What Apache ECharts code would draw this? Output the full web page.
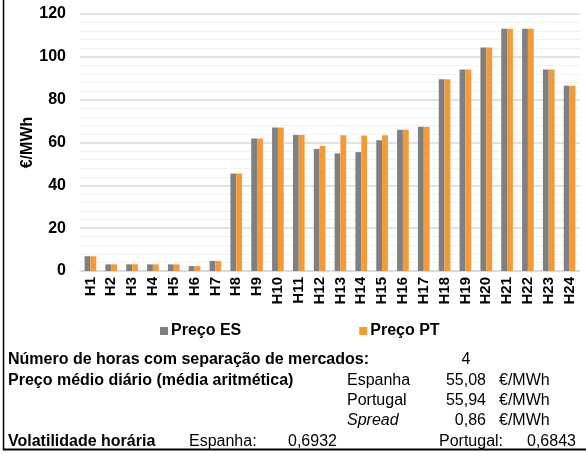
<!DOCTYPE html>
<html>
<head>
<meta charset="utf-8">
<script src="https://cdn.jsdelivr.net/npm/echarts@6/dist/echarts.min.js"></script>
<style>
  html, body { margin: 0; padding: 0; background: #fff; }
  #chart { width: 586px; height: 454px; }
</style>
</head>
<body>
<div id="chart"></div>
<script>
  const hours = ['H1', 'H2', 'H3', 'H4', 'H5', 'H6', 'H7', 'H8', 'H9', 'H10', 'H11', 'H12',
    'H13', 'H14', 'H15', 'H16', 'H17', 'H18', 'H19', 'H20', 'H21', 'H22', 'H23', 'H24']
  const precoES = [6.9, 3.1, 3.1, 3.1, 3.1, 2.3, 4.7, 45.5, 61.9, 67.0, 63.5, 57.0,
    54.9, 55.5, 61.0, 65.9, 67.3, 89.5, 94.1, 104.3, 113.1, 113.1, 94.1, 86.5]
  const precoPT = [6.9, 3.1, 3.1, 3.1, 3.1, 2.3, 4.7, 45.5, 61.9, 67.0, 63.5, 58.4,
    63.4, 63.3, 63.4, 65.9, 67.3, 89.5, 94.1, 104.3, 113.1, 113.1, 94.1, 86.5]
  const yTicks = [0, 20, 40, 60, 80, 100, 120]

  // quadro de resumo por baixo do gráfico
  const horasSeparacao = '4'
  const precoMedio = [
    ['Espanha', '55,08', '€/MWh'],
    ['Portugal', '55,94', '€/MWh'],
    ['Spread', '0,86', '€/MWh'],
  ]
  const volatilidade = [['Espanha:', '0,6932'], ['Portugal:', '0,6843']]

  const FONT = '"Liberation Sans", Arial, sans-serif'
  const GREY = '#808080'
  const ORANGE = '#F49B38'

  function txt(x, y, text, weight, style, align) {
    return {
      type: 'text',
      x: x,
      y: y,
      z2: style === 'italic' ? 20 : 10,
      style: {
        text: text,
        fill: '#000',
        font: (style || 'normal') + ' ' + (weight || 'normal') + ' 16px ' + FONT,
        textAlign: align || 'left',
        textVerticalAlign: 'middle',
      },
    }
  }

  const rowsY = [360, 380.5, 401, 421, 442]
  const graphics = [
    // bordas da célula
    { type: 'line', shape: { x1: 3.5, y1: 0, x2: 3.5, y2: 450 }, style: { stroke: '#000', lineWidth: 1.5 } },
    { type: 'line', shape: { x1: 3, y1: 449.5, x2: 586, y2: 449.5 }, style: { stroke: '#000', lineWidth: 2 } },
    txt(8, rowsY[0], 'Número de horas com separação de mercados:', 'bold'),
    txt(466, rowsY[0], horasSeparacao, 'normal', 'normal', 'center'),
    txt(8, rowsY[1], 'Preço médio diário (média aritmética)', 'bold'),
    txt(8, rowsY[4], 'Volatilidade horária', 'bold'),
  ]
  precoMedio.forEach(function (row, i) {
    const y = rowsY[i + 1]
    graphics.push(txt(347, y, row[0], 'normal', row[0] === 'Spread' ? 'italic' : 'normal'))
    graphics.push(txt(486, y, row[1], 'normal', 'normal', 'right'))
    graphics.push(txt(499, y, row[2]))
  })
  graphics.push(txt(189, rowsY[4], volatilidade[0][0]))
  graphics.push(txt(288, rowsY[4], volatilidade[0][1]))
  graphics.push(txt(439, rowsY[4], volatilidade[1][0]))
  graphics.push(txt(527, rowsY[4], volatilidade[1][1]))

  const myChart = echarts.init(document.getElementById('chart'))
  const option = {
    animation: false,
    textStyle: { fontFamily: FONT },
    grid: { left: 80, right: 6, top: 14, bottom: 183, containLabel: false },
    legend: {
      data: ['Preço ES', 'Preço PT'],
      left: 155,
      top: 318,
      icon: 'rect',
      itemWidth: 8,
      itemHeight: 8,
      itemGap: 118,
      textStyle: { fontWeight: 'bold', fontSize: 16, color: '#000', fontFamily: FONT, padding: [0, 0, 0, -2] },
    },
    xAxis: {
      type: 'category',
      data: hours,
      axisLine: { lineStyle: { color: '#d9d9d9', width: 1.5 } },
      axisTick: { show: false },
      axisLabel: { rotate: 90, fontSize: 15, fontWeight: 'bold', color: '#000', margin: 6, interval: 0 },
    },
    yAxis: {
      type: 'value',
      min: yTicks[0],
      max: yTicks[yTicks.length - 1],
      interval: 20,
      name: '€/MWh',
      nameLocation: 'middle',
      nameGap: 44,
      nameMoveOverlap: false,
      nameTextStyle: { fontSize: 16, fontWeight: 'bold', color: '#000' },
      axisLine: { show: false },
      axisTick: { show: false },
      axisLabel: { fontSize: 16, fontWeight: 'bold', color: '#000', margin: 14 },
      splitLine: { lineStyle: { color: '#d9d9d9', width: 1.5 } },
      minorTick: { show: false, splitNumber: 5 },
      minorSplitLine: { show: true, lineStyle: { color: '#f2f2f2', width: 1 } },
    },
    series: [
      {
        name: 'Preço ES',
        type: 'bar',
        data: precoES,
        itemStyle: { color: GREY },
        barGap: '0%',
        barCategoryGap: '44%',
      },
      {
        name: 'Preço PT',
        type: 'bar',
        data: precoPT,
        itemStyle: { color: ORANGE },
        barGap: '0%',
        barCategoryGap: '44%',
      },
    ],
    graphic: graphics,
  }
  myChart.setOption(option)
</script>
</body>
</html>
